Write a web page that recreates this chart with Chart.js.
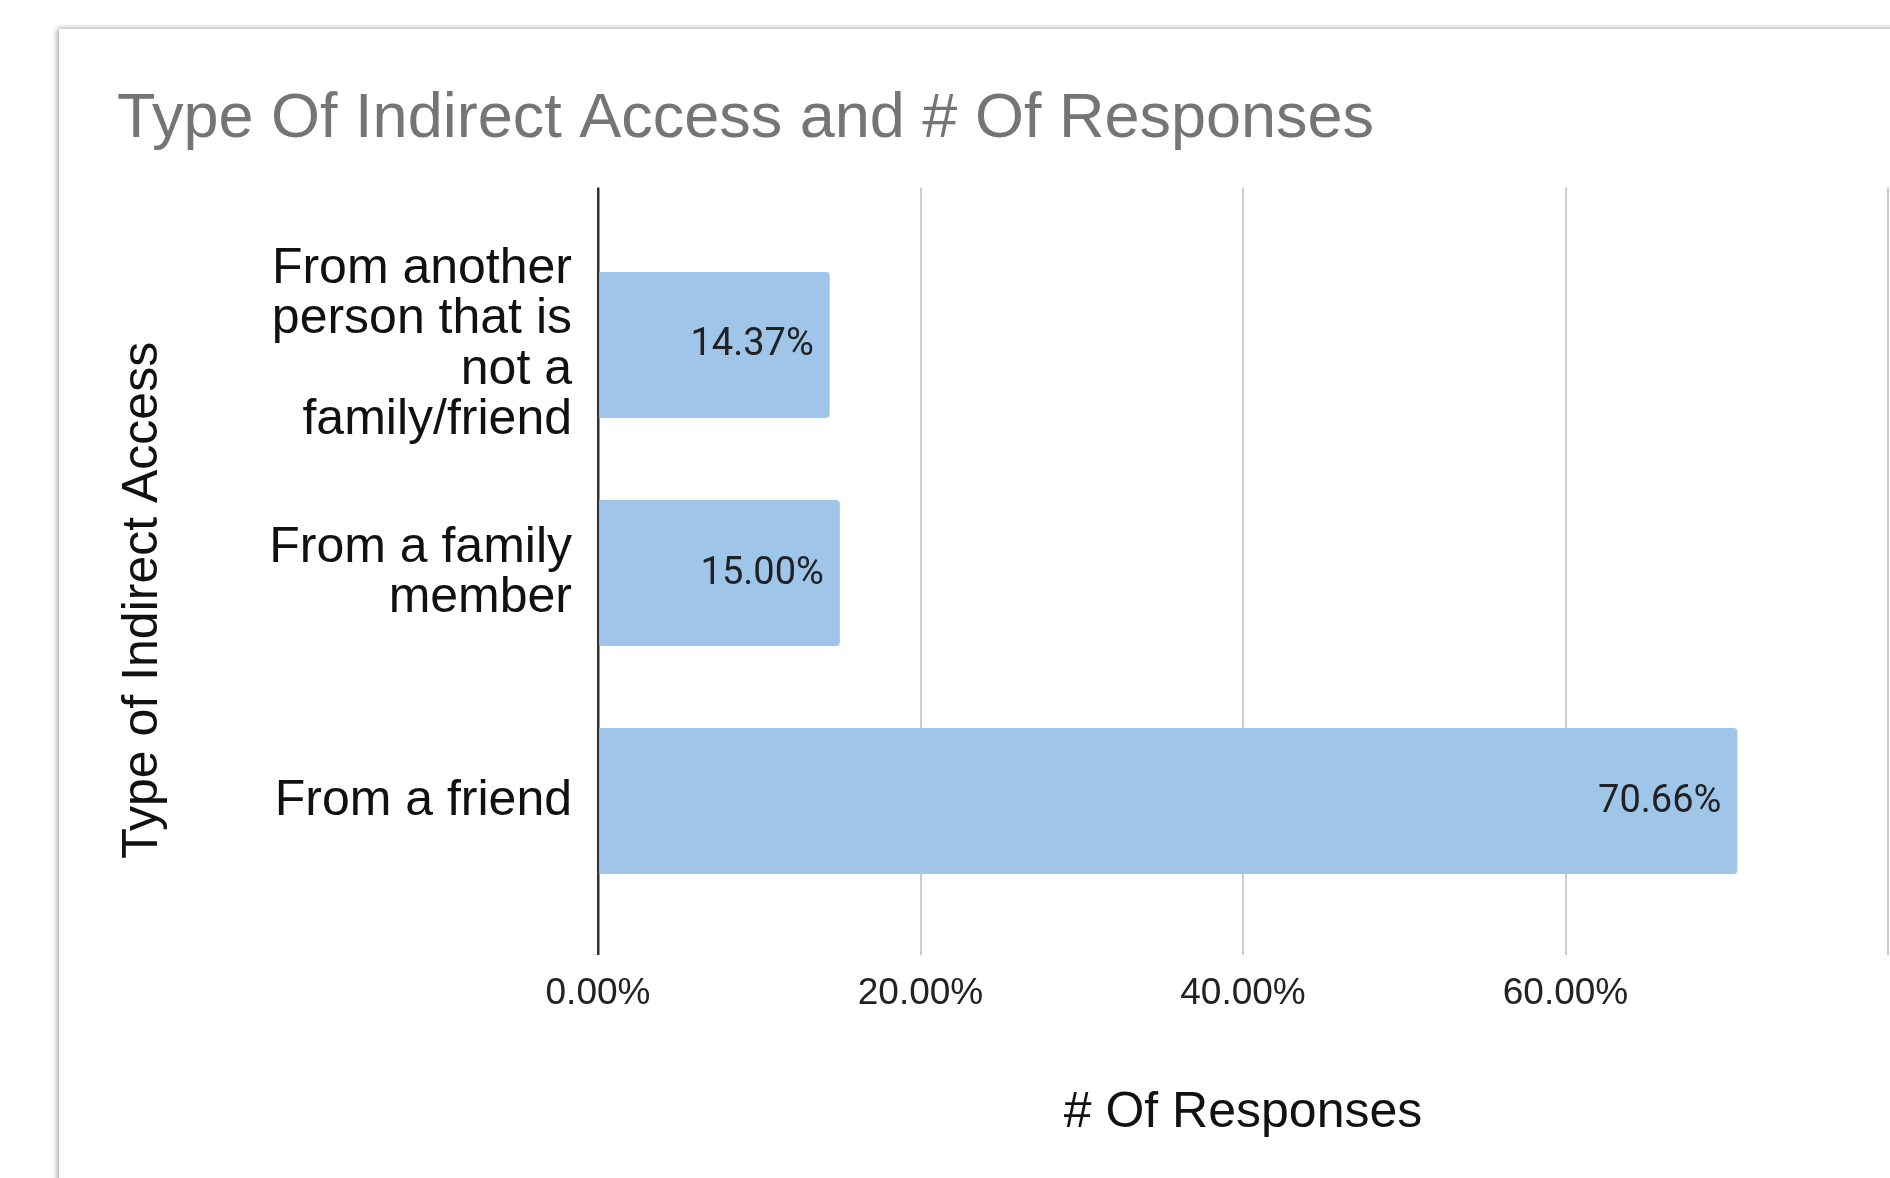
<!DOCTYPE html>
<html>
<head>
<meta charset="utf-8">
<title>Type Of Indirect Access and # Of Responses</title>
<script src="https://cdn.jsdelivr.net/npm/chart.js@4.4.1/dist/chart.umd.min.js"></script>
<style>
  html, body { margin: 0; padding: 0; background: #fff; overflow: hidden; }
  body { width: 1890px; height: 1178px; position: relative; }
  #card {
    position: absolute;
    left: 59px;
    top: 29px;
    width: 1900px;
    height: 1200px;
    background: #fff;
    box-shadow: -2px 0 6px rgba(0, 0, 0, 0.3), 0 -1px 5px rgba(0, 0, 0, 0.12);
  }
  #card canvas { display: block; }
</style>
</head>
<body>
<div id="card"><canvas id="myChart" width="1900" height="1149"></canvas></div>
<script>
// survey answers, top to bottom
const categories = [
  ["From another", "person that is", "not a", "family/friend"],
  ["From a family", "member"],
  ["From a friend"],
];
const responses = [14.37, 15.0, 70.66];
const xTickValues = [0, 20, 40, 60, 80];

const font = "'Liberation Sans', Arial, Helvetica, sans-serif";
const ctx = document.getElementById("myChart");

// value printed inside the end of each bar
const barLabels = {
  id: "barLabels",
  afterDatasetsDraw(chart) {
    const c = chart.ctx;
    const meta = chart.getDatasetMeta(0);
    c.save();
    c.font = "38px Roboto";
    c.fillStyle = "#202124";
    c.textAlign = "right";
    c.textBaseline = "middle";
    meta.data.forEach((bar, i) => {
      c.fillText(responses[i].toFixed(2) + "%", bar.x - 16, bar.y + 1);
    });
    c.restore();
  },
};

// rotated axis title, sits a bit below the middle of the plot
const sideTitle = {
  id: "sideTitle",
  afterDraw(chart) {
    const c = chart.ctx;
    const area = chart.chartArea;
    c.save();
    c.translate(chart.scales.y.left + 40, (area.top + area.bottom) / 2 + 29);
    c.rotate(-Math.PI / 2);
    c.font = "50px " + font;
    c.fillStyle = "#111";
    c.textAlign = "center";
    c.textBaseline = "alphabetic";
    c.fillText("Type of Indirect Access", 0, 0);
    c.restore();
  },
};

new Chart(ctx, {
  type: "bar",
  data: {
    datasets: [
      {
        data: responses.map((v, i) => ({ x: v, y: i })),
        backgroundColor: "#9fc5e8",
        borderRadius: 4,
        borderSkipped: "start",
        barPercentage: 0.8,
        categoryPercentage: 0.8,
      },
    ],
  },
  options: {
    indexAxis: "y",
    responsive: false,
    animation: false,
    layout: { padding: { left: 58, right: 71, top: 0, bottom: 0 } },
    plugins: {
      legend: { display: false },
      tooltip: { enabled: false },
      title: {
        display: true,
        text: "Type Of Indirect Access and # Of Responses",
        align: "start",
        color: "#757575",
        font: { family: font, size: 63, weight: "normal", lineHeight: 1.2 },
        padding: { top: 53, bottom: 30 },
      },
    },
    scales: {
      x: {
        type: "linear",
        min: 0,
        max: 80,
        afterBuildTicks: (axis) => {
          axis.ticks = xTickValues.map((v) => ({ value: v }));
        },
        afterFit: (axis) => {
          axis.height = 223;
        },
        border: { display: false },
        grid: {
          color: (c) => (c.tick && c.tick.value === 0 ? "#333" : "#ccc"),
          lineWidth: (c) => (c.tick && c.tick.value === 0 ? 2.5 : 2),
          drawTicks: false,
        },
        ticks: {
          callback: (v) => (v < 80 ? v.toFixed(2) + "%" : ""),
          font: { family: font, size: 37 },
          color: "#222",
          padding: 17,
          maxRotation: 0,
        },
        title: {
          display: true,
          text: "# Of Responses",
          font: { family: font, size: 50 },
          color: "#111",
          padding: { top: 0, bottom: 35 },
        },
      },
      y: {
        type: "linear",
        reverse: true,
        bounds: "data",
        offset: false,
        min: -0.69,
        max: 2.675,
        // one tick per answer, labelled with its text
        afterBuildTicks: (axis) => {
          axis.ticks = categories.map((_, i) => ({ value: i }));
        },
        afterFit: (axis) => {
          axis.width = 481;
        },
        border: { display: false },
        grid: { display: false, drawTicks: false, offset: false },
        ticks: {
          callback: (v) => categories[v],
          font: { family: font, size: 50, lineHeight: 1.01 },
          color: "#111",
          padding: 26,
        },
      },
    },
  },
  plugins: [barLabels, sideTitle],
});
</script>
</body>
</html>
